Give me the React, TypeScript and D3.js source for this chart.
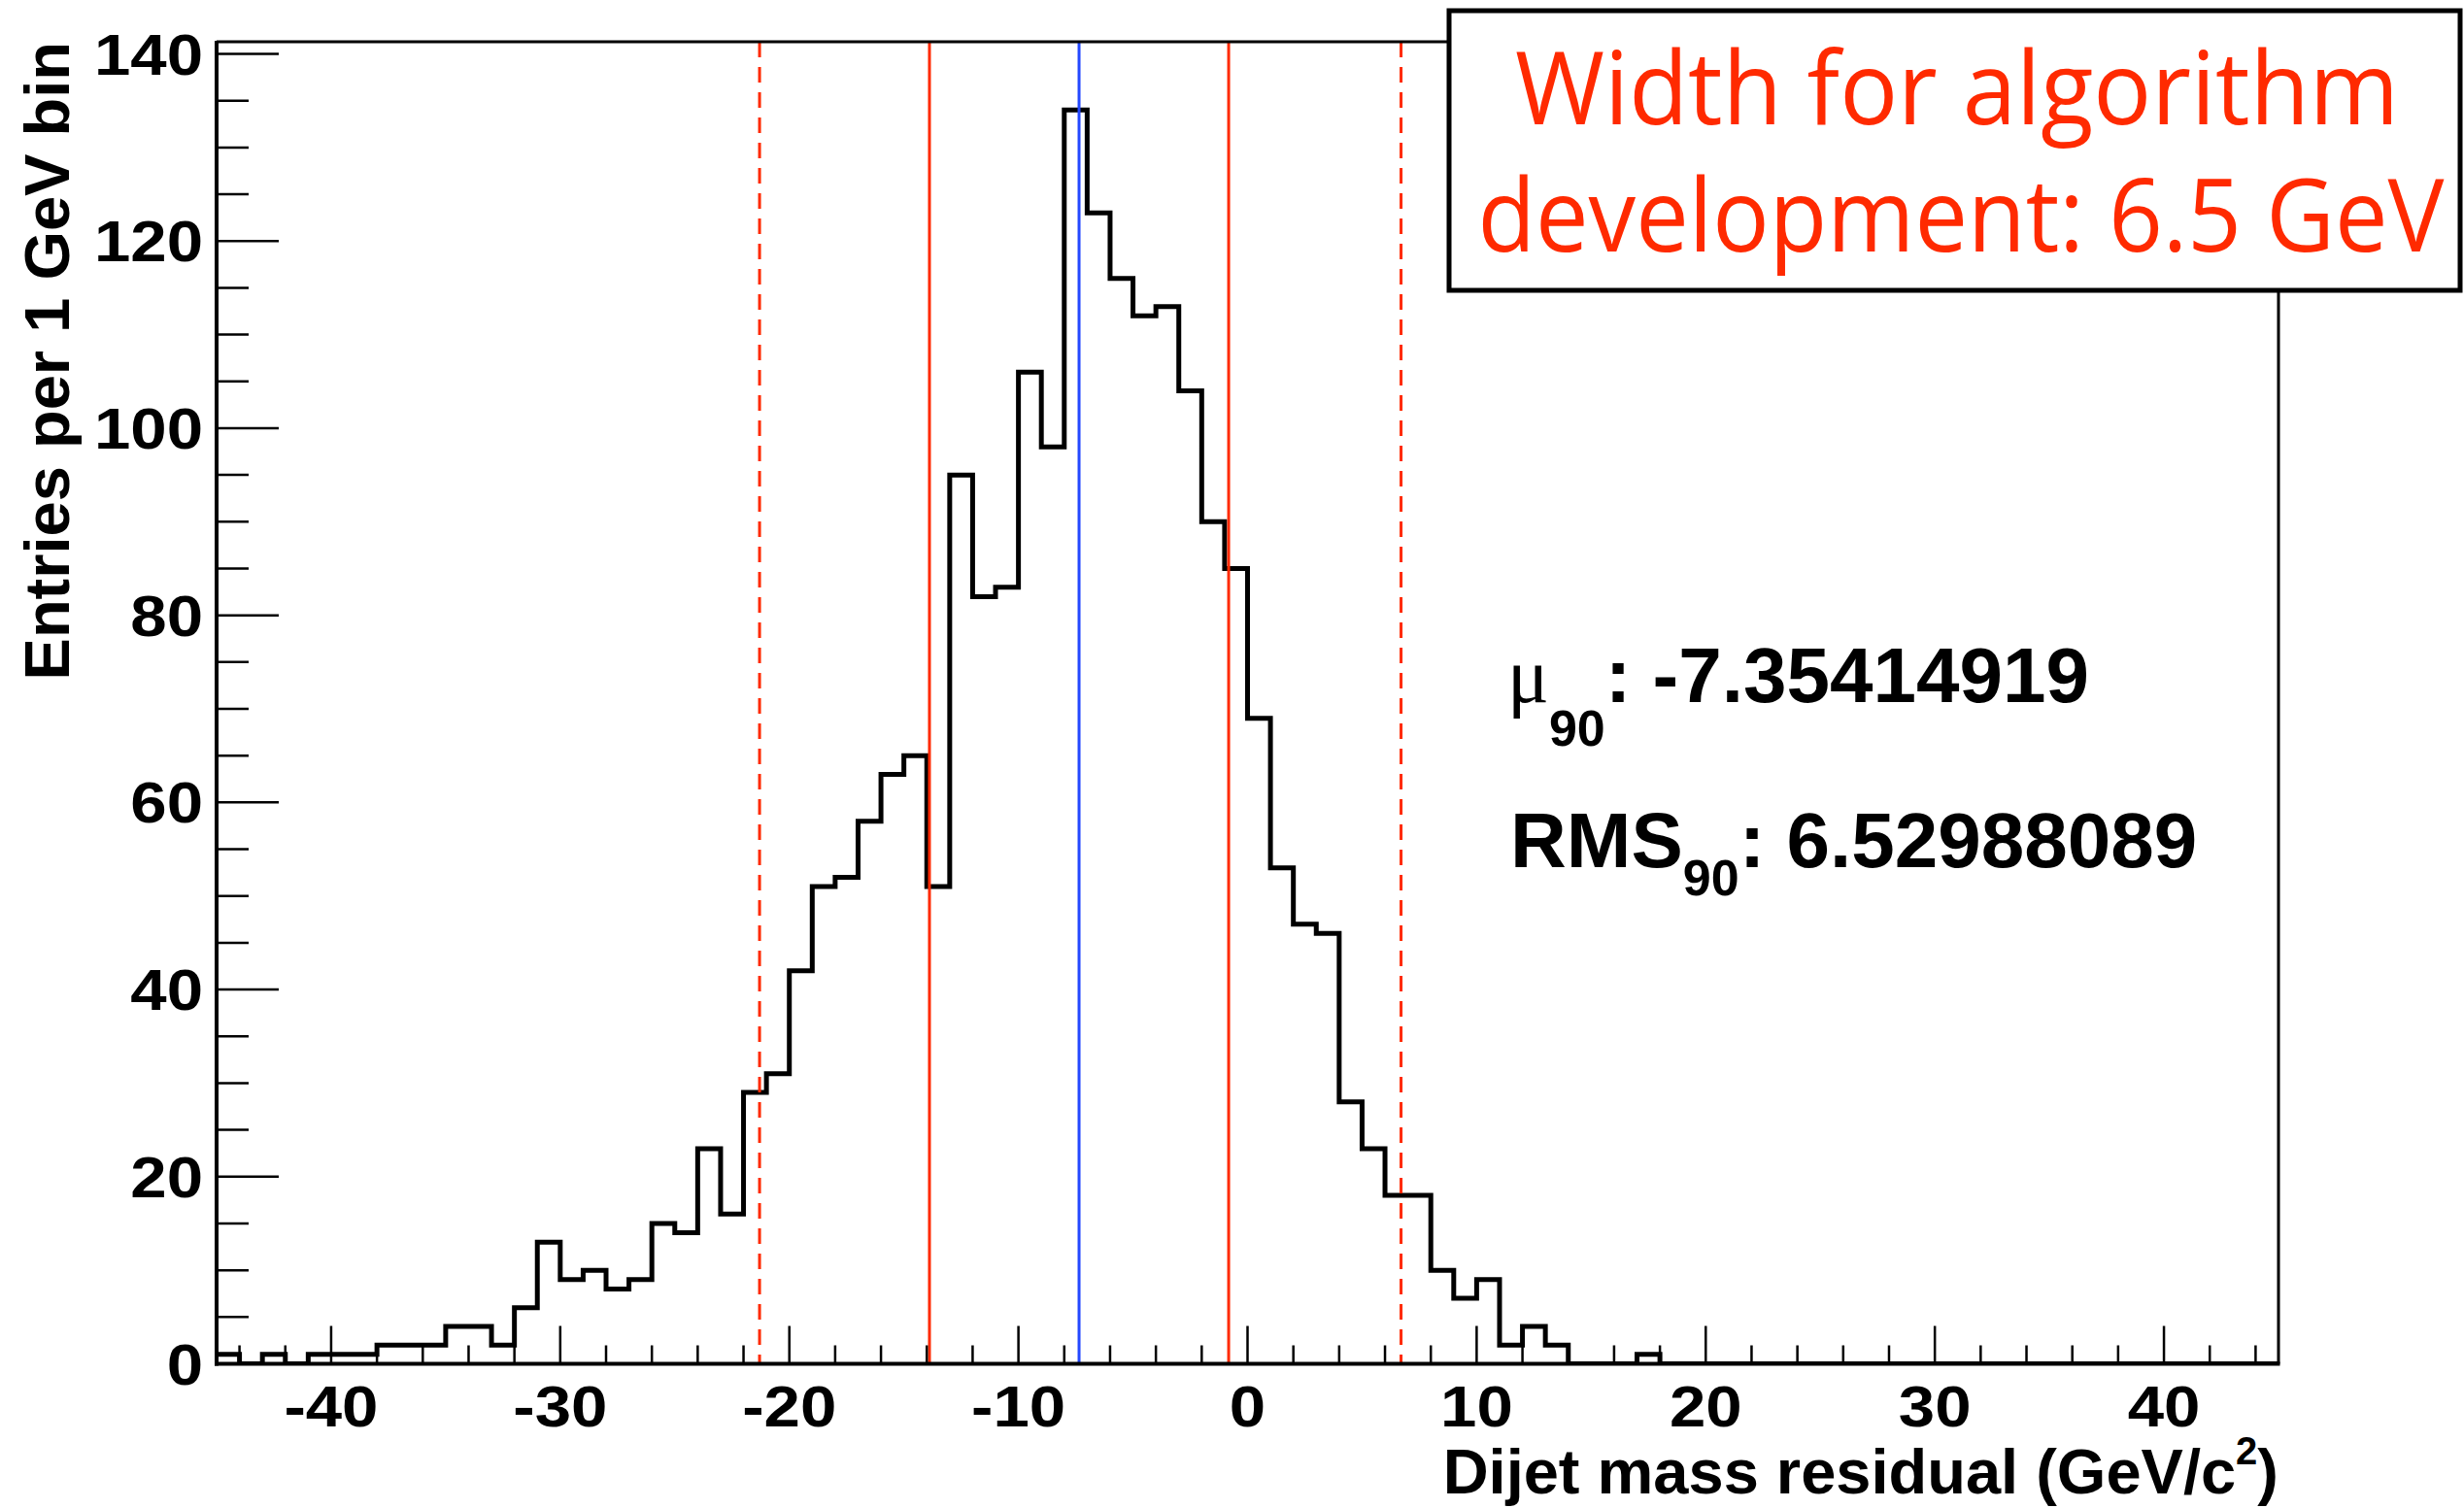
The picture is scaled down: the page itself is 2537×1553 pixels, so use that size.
import React from "react";
import * as d3 from "d3";

// ---- data ----
const binLow = -45; // lower edge of first 1 GeV bin
const binCounts = [
  1, 0, 1, 0, 1, 1, 1, 2, 2, 2, // -45 .. -36
  4, 4, 2, 6, 13, 9, 10, 8, 9, 15, // -35 .. -26
  14, 23, 16, 29, 31, 42, 51, 52, 58, 63, // -25 .. -16
  65, 51, 95, 82, 83, 106, 98, 134, 123, 116, // -15 .. -6
  112, 113, 104, 90, 85, 69, 53, 47, 46, 28, // -5 .. 4
  23, 18, 18, 10, 7, 9, 2, 4, 2, 0, // 5 .. 14
  0, 0, 1, 0, 0, 0, 0, 0, 0, 0, // 15 .. 24
  0, 0, 0, 0, 0, 0, 0, 0, 0, 0, // 25 .. 34
  0, 0, 0, 0, 0, 0, 0, 0, 0, 0, // 35 .. 44
];
const xTickValues = [-40, -30, -20, -10, 0, 10, 20, 30, 40];
const xTickLabels = ["-40", "-30", "-20", "-10", "0", "10", "20", "30", "40"];
const yTickValues = [0, 20, 40, 60, 80, 100, 120, 140];
const yTickLabels = ["0", "20", "40", "60", "80", "100", "120", "140"];
const mu90 = -7.35414919;
const rms90 = 6.52988089;
const dashedLines = [-21.3, 6.7];
const xDomain = [-45, 45];
const yDomain = [0, 141.3];
const boxLines = ["Width for algorithm", "development: 6.5 GeV"];

export default function App() {
  const W = 2537;
  const H = 1553;
  const L = 223, R = 2346, T = 43, B = 1404.5;
  const x = d3.scaleLinear().domain(xDomain).range([L, R]);
  const y = d3.scaleLinear().domain(yDomain).range([B, T]);

  const pts: [number, number][] = binCounts.map((c, i) => [binLow + i, c]);
  pts.push([binLow + binCounts.length, binCounts[binCounts.length - 1]]);
  const line = d3
    .line<[number, number]>()
    .x((d) => x(d[0]))
    .y((d) => y(d[1]))
    .curve(d3.curveStepAfter);

  const minorX = d3.range(-44, 45, 2).filter((v) => v % 10 !== 0);
  const minorY = d3.range(0, 141, 5).filter((v) => v % 20 !== 0);

  const red = "#ff2a00";
  const blue = "#2448ff";
  const sans = "'Liberation Sans', Arial, Helvetica, sans-serif";

  return (
    <svg
      width={W}
      height={H}
      viewBox={`0 0 ${W} ${H}`}
      style={{ position: "fixed", left: 0, top: 0, display: "block", background: "#fff" }}
    >
      <defs>
        <clipPath id="frameClip">
          <rect x={L} y={T} width={R - L} height={B - T} />
        </clipPath>
      </defs>
      <rect x={0} y={0} width={W} height={H} fill="#fff" />

      {/* histogram */}
      <path
        d={line(pts) || ""}
        fill="none"
        stroke="#000"
        strokeWidth={5}
        strokeLinejoin="miter"
        clipPath="url(#frameClip)"
      />

      {/* vertical marker lines */}
      {dashedLines.map((v, i) => (
        <line
          key={"d" + i}
          x1={x(v)}
          x2={x(v)}
          y1={T}
          y2={B}
          stroke={red}
          strokeWidth={3}
          strokeDasharray="16,10"
        />
      ))}
      {[mu90 - rms90, mu90 + rms90].map((v, i) => (
        <line key={"r" + i} x1={x(v)} x2={x(v)} y1={T} y2={B} stroke={red} strokeWidth={3} />
      ))}
      <line x1={x(mu90)} x2={x(mu90)} y1={T} y2={B} stroke={blue} strokeWidth={3} />

      {/* frame */}
      <line x1={L} x2={R} y1={T} y2={T} stroke="#000" strokeWidth={3} />
      <line x1={R} x2={R} y1={T} y2={B} stroke="#000" strokeWidth={3} />
      <line x1={L} x2={L} y1={T - 1} y2={B + 2} stroke="#000" strokeWidth={4} />
      <line x1={L - 2} x2={R + 1.5} y1={B} y2={B} stroke="#000" strokeWidth={4} />

      {/* x ticks */}
      {xTickValues.map((v) => (
        <line key={"xt" + v} x1={x(v)} x2={x(v)} y1={B} y2={B - 39} stroke="#000" strokeWidth={2.5} />
      ))}
      {minorX.map((v) => (
        <line key={"xm" + v} x1={x(v)} x2={x(v)} y1={B} y2={B - 19} stroke="#000" strokeWidth={2.5} />
      ))}
      {xTickValues.map((v, i) => (
        <text
          key={"xl" + v}
          transform={`translate(${x(v)}, 1469) scale(1.12, 1)`}
          textAnchor="middle"
          fontFamily={sans}
          fontWeight="bold"
          fontSize={60}
          fill="#000"
        >
          {xTickLabels[i]}
        </text>
      ))}

      {/* y ticks */}
      {yTickValues.map((v) => (
        <line key={"yt" + v} x1={L} x2={L + 64} y1={y(v)} y2={y(v)} stroke="#000" strokeWidth={2.5} />
      ))}
      {minorY.map((v) => (
        <line key={"ym" + v} x1={L} x2={L + 33} y1={y(v)} y2={y(v)} stroke="#000" strokeWidth={2.5} />
      ))}
      {yTickValues.map((v, i) => (
        <text
          key={"yl" + v}
          transform={`translate(209, ${y(v) + 21}) scale(1.12, 1)`}
          textAnchor="end"
          fontFamily={sans}
          fontWeight="bold"
          fontSize={60}
          fill="#000"
        >
          {yTickLabels[i]}
        </text>
      ))}

      {/* axis titles */}
      <text
        x={R}
        y={1538}
        textAnchor="end"
        fontFamily={sans}
        fontWeight="bold"
        fontSize={65}
        fill="#000"
      >
        Dijet mass residual (GeV/c
        <tspan fontSize={40} dy={-30}>2</tspan>
        <tspan dy={30}>)</tspan>
      </text>
      <text
        transform={`translate(71, ${T}) rotate(-90)`}
        textAnchor="end"
        fontFamily={sans}
        fontWeight="bold"
        fontSize={65}
        fill="#000"
      >
        Entries per 1 GeV bin
      </text>

      {/* stats text */}
      <text x={1552} y={723} fontFamily={sans} fontWeight="bold" fontSize={80} fill="#000">
        <tspan fontFamily="'Liberation Serif', 'Times New Roman', serif" fontWeight="normal" fontSize={80}>
          μ
        </tspan>
        <tspan fontSize={52} dy={45}>90</tspan>
        <tspan dy={-45}>: -7.35414919</tspan>
      </text>
      <text x={1555} y={893} fontFamily={sans} fontWeight="bold" fontSize={80} fill="#000">
        RMS
        <tspan fontSize={52} dy={29}>90</tspan>
        <tspan dy={-29}>: 6.52988089</tspan>
      </text>

      {/* annotation box */}
      <rect x={1492} y={11} width={1041} height={288} fill="#fff" stroke="#000" strokeWidth={5} />
      <text
        x={2015}
        y={128}
        textAnchor="middle"
        fontFamily="'Open Sans', 'Noto Sans', sans-serif"
        fontSize={105}
        fill={red}
        textLength={910}
        lengthAdjust="spacingAndGlyphs"
      >
        {boxLines[0]}
      </text>
      <text
        x={2019}
        y={259}
        textAnchor="middle"
        fontFamily="'Open Sans', 'Noto Sans', sans-serif"
        fontSize={105}
        fill={red}
        textLength={995}
        lengthAdjust="spacingAndGlyphs"
      >
        {boxLines[1]}
      </text>
    </svg>
  );
}
